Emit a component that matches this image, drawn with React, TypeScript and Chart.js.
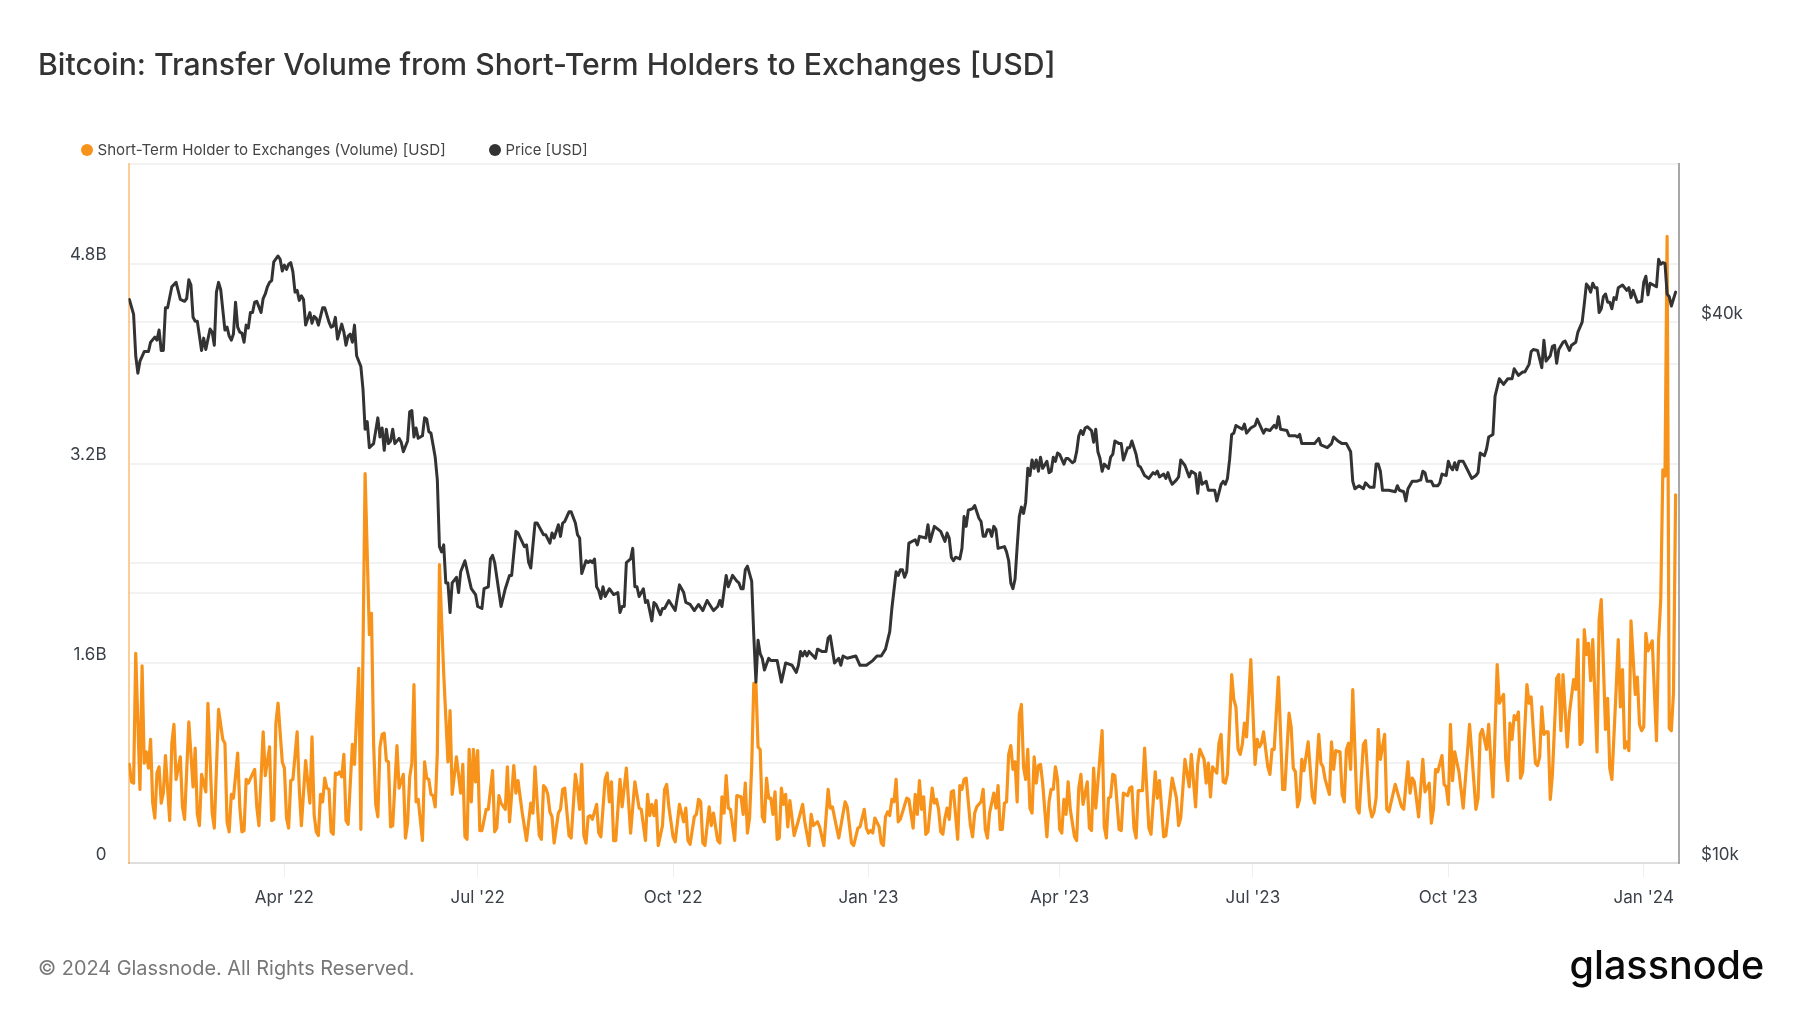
import { useEffect, useRef } from "react"
import { Chart, registerables } from "chart.js"
Chart.register(...registerables)

const FONT = "Inter, 'Noto Sans', sans-serif"
const ORANGE = "#f7931a"
const DARK = "#333333"
const GRID = "#f2f2f2"

// x values are days counted from 17 Jan 2022
const X_TICK_DAYS = [73, 164, 256, 348, 438, 529, 621, 713]
const X_TICK_LABELS = ["Apr '22", "Jul '22", "Oct '22", "Jan '23", "Apr '23", "Jul '23", "Oct '23", "Jan '24"]

const VOLUME_TICKS = [0, 0.8, 1.6, 2.4, 3.2, 4, 4.8, 5.6]
const VOLUME_LABELS = ["0", "", "1.6B", "", "3.2B", "", "4.8B", ""]
const PRICE_TICKS = [10000, 20000, 40000]
const PRICE_LABELS = ["$10k", "", "$40k"]

// [day, billions of USD]
const VOLUME: [number, number][] = [
  [0,.79],[1,.65],[2,.64],[3,1.68],[5,.59],[6,1.58],[7,.80],[8,.89],[9,.76],[10,.99],[11,.48],[12,.36],[13,.72],[14,.77],[15,.48],[16,.56],[17,.86],[19,.34],[20,.96],[21,1.11],[22,.67],[24,.85],[25,.45],[26,.35],[28,1.13],[30,.61],[31,.92],[32,.39],[33,.30],[34,.71],[36,.57],[37,1.28],[39,.40],[40,.28],[42,1.23],[44,.99],[45,.96],[46,.33],[47,.25],[48,.55],[49,.52],[51,.88],[52,.45],[53,.25],[54,.26],[55,.67],[56,.64],[59,.75],[60,.45],[61,.30],[63,1.05],[64,.70],[66,.93],[67,.34],[68,.35],[69,1.12],[70,1.28],[72,.81],[73,.76],[74,.36],[75,.28],[76,.66],[77,.67],[79,1.05],[80,.60],[81,.30],[83,.82],[85,.48],[86,1.01],[87,.39],[88,.25],[89,.22],[90,.55],[91,.49],[92,.68],[93,.60],[94,.59],[95,.25],[96,.23],[97,.72],[98,.71],[99,.73],[100,.69],[101,.87],[102,.34],[103,.31],[105,.95],[106,.79],[108,1.56],[109,.27],[111,3.12],[113,1.83],[114,2.00],[115,.96],[116,.47],[117,.37],[118,.93],[119,1.03],[120,1.04],[121,.82],[122,.81],[123,.29],[124,.30],[126,.94],[127,.60],[129,.71],[130,.20],[131,.32],[132,.69],[133,.80],[134,1.43],[135,.49],[136,.51],[138,.18],[139,.81],[140,.68],[141,.67],[142,.55],[143,.54],[144,.45],[145,.88],[146,2.39],[148,1.52],[150,.81],[151,1.22],[152,.55],[154,.85],[156,.56],[157,.79],[158,.21],[159,.19],[160,.91],[161,.49],[162,.91],[163,.65],[164,.90],[165,.26],[166,.26],[168,.43],[169,.43],[171,.74],[172,.25],[173,.28],[174,.54],[175,.48],[177,.43],[178,.77],[179,.33],[180,.55],[181,.78],[182,.56],[183,.66],
  [185,.40],[187,.18],[189,.48],[190,.40],[191,.77],[193,.22],[194,.19],[195,.62],[196,.60],[197,.55],[198,.41],[199,.37],[200,.16],[202,.40],[203,.43],[204,.59],[205,.60],[207,.22],[208,.20],[210,.71],[211,.60],[212,.43],[213,.79],[214,.22],[215,.16],[216,.37],[217,.38],[218,.35],[220,.47],[221,.24],[222,.21],[224,.67],[225,.72],[226,.49],[227,.65],[228,.18],[229,.18],[231,.67],[232,.45],[234,.76],[236,.24],[238,.65],[240,.44],[241,.43],[243,.18],[244,.55],[245,.38],[246,.47],[247,.38],[248,.50],[249,.14],[251,.30],[252,.59],[253,.63],[254,.45],[256,.21],[257,.17],[259,.47],[261,.33],[262,.44],[263,.18],[264,.15],[266,.37],[267,.39],[268,.51],[269,.49],[270,.16],[271,.14],[273,.45],[274,.30],[275,.40],[277,.18],[278,.16],[279,.53],[280,.40],[281,.70],[282,.44],[283,.43],[285,.18],[286,.54],[288,.53],[289,.39],[290,.64],[291,.24],[292,.36],[293,.77],[294,1.44],[295,1.44],[296,.93],[297,.91],[298,.37],[299,.33],[300,.68],[301,.52],[302,.52],[303,.39],[304,.57],[305,.19],[306,.20],[307,.60],[308,.47],[309,.55],[310,.29],[311,.50],[313,.22],[315,.34],[317,.47],[318,.33],[320,.14],[321,.39],[322,.30],[324,.33],[325,.29],[327,.14],[329,.59],[330,.44],[331,.45],[334,.20],[337,.49],[338,.45],[340,.16],[341,.14],[343,.28],[344,.29],[346,.43],[347,.28],[348,.24],[349,.26],[350,.24],[351,.36],[353,.29],[354,.16],[355,.14],[356,.37],[357,.41],[358,.38],[359,.51],[360,.49],[361,.67],[362,.33],[363,.35],[366,.52],[367,.51],[369,.28],[370,.55],[371,.39],[372,.66],
  [373,.43],[374,.53],[375,.23],[376,.25],[378,.60],[379,.48],[380,.51],[381,.43],[382,.25],[383,.23],[384,.36],[385,.44],[386,.35],[387,.57],[388,.58],[390,.19],[391,.62],[392,.59],[393,.67],[394,.68],[396,.30],[397,.21],[398,.40],[399,.45],[401,.49],[402,.59],[403,.27],[404,.20],[405,.40],[407,.56],[408,.44],[409,.62],[410,.27],[411,.27],[412,.48],[413,.49],[414,.87],[415,.94],[416,.75],[417,.81],[418,.49],[419,1.19],[420,1.27],[421,.77],[422,.67],[423,.91],[424,.44],[425,.40],[426,.85],[427,.64],[428,.78],[429,.79],[430,.64],[432,.21],[433,.49],[434,.59],[435,.59],[436,.77],[437,.67],[438,.27],[439,.24],[440,.51],[441,.39],[442,.65],[443,.43],[445,.21],[446,.18],[447,.60],[448,.71],[449,.47],[451,.65],[452,.28],[453,.26],[454,.76],[455,.44],[458,1.06],[459,.29],[460,.20],[461,.52],[462,.53],[463,.71],[464,.70],[466,.27],[467,.26],[468,.56],[470,.54],[471,.60],[472,.61],[473,.28],[474,.20],[475,.58],[477,.58],[478,.92],[480,.28],[481,.23],[483,.73],[484,.52],[485,.66],[487,.21],[488,.22],[491,.68],[493,.52],[494,.30],[495,.36],[497,.83],[499,.61],[500,.87],[502,.45],[503,.79],[504,.91],[506,.83],[507,.64],[508,.80],[509,.53],[510,.77],[512,.72],[513,.96],[514,1.03],[515,.65],[516,.64],[517,.71],[519,1.51],[520,1.31],[521,1.25],[522,.91],[523,.87],[524,.95],[525,1.12],[526,1.01],[528,1.63],[530,.79],[531,.99],[532,.93],[533,.96],[534,1.05],[536,.77],[537,.71],[538,.91],[539,.91],[541,1.49],[543,.59],[544,.59],[546,1.20],[547,1.09],[548,.76],[549,.73],[550,.45],[551,.51],[552,.83],[553,.74],[555,.97],[557,.53],[558,.48],
  [560,1.03],[561,.80],[562,.77],[563,.67],[565,.55],[566,.97],[567,.75],[568,.90],[570,.89],[571,.55],[572,.49],[573,.91],[574,.96],[575,.75],[576,1.39],[578,.44],[579,.40],[581,.95],[582,.98],[584,.45],[585,.37],[586,.41],[587,.52],[588,1.07],[589,.83],[591,1.03],[592,.43],[593,.41],[596,.63],[599,.45],[600,.43],[602,.81],[603,.56],[604,.68],[605,.65],[607,.37],[609,.83],[610,.57],[612,.64],[613,.32],[614,.43],[615,.75],[616,.73],[618,.86],[619,.63],[620,.61],[621,.47],[622,1.11],[623,.66],[624,.89],[626,.73],[628,.44],[631,1.11],[634,.43],[635,.52],[636,1.03],[637,1.07],[639,.91],[640,1.11],[642,.53],[644,1.59],[645,1.28],[647,1.35],[648,.83],[649,.66],[650,1.12],[651,.99],[652,1.18],[653,1.15],[654,1.21],[655,.68],[656,.73],[658,1.43],[659,1.28],[660,1.33],[662,.80],[663,.78],[664,.85],[665,1.25],[666,1.03],[667,1.05],[668,1.05],[669,.51],[670,.71],[672,1.48],[673,1.51],[674,1.06],[675,1.51],[677,.93],[678,1.20],[680,1.47],[681,1.39],[682,1.79],[683,.95],[684,.97],[685,1.87],[686,1.67],[687,1.76],[688,1.46],[689,1.79],[691,.89],[692,1.95],[693,2.11],[695,1.07],[696,1.32],[697,.76],[698,.67],[700,1.39],[701,1.79],[702,1.25],[703,1.55],[704,.92],[705,.97],[706,.90],[707,1.94],[709,1.35],[710,1.49],[711,1.11],[712,1.06],[713,1.09],[714,1.84],[715,1.70],[717,1.78],[719,.98],[720,1.79],[721,2.11],[722,3.15],[723,3.10],[724,5.02],[725,1.08],[726,1.06],[727,1.36],[728,2.95],
]

// [day, thousands of USD]
const PRICE: [number, number][] = [
  [0,42.4],[2,40.8],[3,36.7],[4,35.1],[5,36.2],[7,37.1],[9,37.1],[10,38.0],[12,38.5],[13,38.2],[14,39.2],[15,37.2],[16,37.2],[17,41.5],[18,41.5],[20,43.8],[22,44.3],[24,42.4],[26,42.2],[27,42.5],[28,44.6],[29,44.0],[30,40.5],[31,40.1],[32,40.1],[34,37.2],[35,38.4],[36,37.3],[38,39.3],[39,39.0],[40,37.7],[41,43.2],[42,44.3],[43,43.5],[45,39.2],[46,39.5],[47,38.6],[48,38.2],[49,38.8],[50,42.1],[51,39.5],[52,39.0],[53,38.9],[54,38.0],[55,39.7],[56,39.4],[57,41.0],[58,41.0],[59,42.1],[60,42.2],[62,41.0],[63,42.5],[64,43.0],[65,43.8],[66,44.3],[67,44.5],[68,46.7],[70,47.4],[71,47.0],[72,45.6],[73,46.3],[74,45.8],[75,46.4],[76,46.6],[77,45.5],[78,43.2],[79,43.4],[80,42.3],[81,42.8],[82,42.4],[83,39.7],[85,41.0],[86,39.9],[87,40.6],[88,40.4],[89,39.7],[91,41.5],[92,41.5],[94,40.0],[95,39.5],[96,39.6],[97,40.5],[98,38.3],[100,39.8],[101,39.0],[102,37.7],[103,38.6],[104,38.8],[105,38.0],[106,39.7],[107,36.7],[109,35.7],[110,33.7],[111,30.4],[112,31.0],[113,29.0],[115,29.3],[117,31.3],[118,29.8],[119,30.5],[120,28.8],[121,30.4],[122,29.3],[123,29.5],[124,30.4],[125,29.3],[127,29.7],[128,29.4],[129,28.7],[131,29.5],[132,31.8],[133,31.9],[134,29.8],[135,30.5],[136,29.7],[138,29.9],[139,31.3],[140,31.2],[141,30.2],[142,30.1],[143,29.2],[144,28.3],[145,26.7],[146,22.5],[147,22.2],[148,22.6],[149,20.5],[150,20.5],[151,19.0],[152,20.5],[154,20.8],[155,20.0],[156,21.1],[158,21.7],[161,20.2],[163,19.9],[164,19.3],[166,19.2],[167,20.2],[169,20.3],[170,21.8],[171,22.0],[172,21.6],[175,19.3],[177,20.2],[179,20.9],[180,20.9],[182,23.4],[183,23.3],
  [186,22.5],[187,22.6],[188,21.6],[189,21.3],[191,23.9],[192,23.9],[195,23.2],[196,23.2],[198,22.7],[199,23.3],[200,23.0],[202,23.8],[203,23.1],[204,23.9],[205,24.0],[207,24.6],[208,24.6],[210,23.9],[211,23.2],[212,23.0],[213,21.0],[215,21.7],[216,21.6],[217,21.7],[218,21.6],[219,21.8],[220,20.3],[221,20.1],[222,19.7],[223,20.3],[224,19.8],[226,20.2],[228,19.9],[230,20.0],[231,19.0],[232,19.3],[233,19.3],[234,21.6],[236,21.8],[237,22.4],[238,20.3],[239,20.3],[240,19.8],[242,20.2],[243,19.5],[244,19.6],[246,18.6],[247,19.5],[248,19.4],[250,18.9],[251,19.2],[252,19.2],[254,19.6],[257,19.1],[259,20.4],[261,20.0],[262,19.5],[264,19.4],[266,19.1],[268,19.4],[270,19.1],[272,19.6],[275,19.1],[277,19.3],[278,19.6],[279,19.3],[281,20.9],[282,20.3],[284,20.9],[286,20.6],[287,20.5],[288,20.2],[289,20.2],[290,21.2],[291,21.4],[293,20.6],[294,17.9],[295,15.9],[296,17.7],[297,17.1],[298,16.9],[299,16.4],[301,16.9],[302,16.8],[305,16.8],[307,15.9],[309,16.7],[312,16.6],[314,16.3],[315,16.6],[316,17.2],[317,17.0],[318,17.2],[319,17.0],[320,17.2],[322,17.0],[323,16.9],[324,17.3],[326,17.2],[328,17.2],[329,17.8],[330,17.9],[332,16.7],[334,16.9],[335,16.6],[336,17.0],[338,16.9],[342,17.0],[344,16.6],[347,16.6],[350,16.8],[352,17.0],[354,17.0],[356,17.3],[358,18.1],[359,19.2],[361,21.1],[362,20.9],[363,21.2],[364,21.2],[365,20.8],[366,21.1],
  [367,22.7],[370,22.9],[371,22.6],[372,23.1],[375,23.0],[376,23.8],[377,22.8],[379,23.7],[382,23.4],[384,22.8],[385,23.3],[386,23.0],[387,21.9],[388,21.7],[389,21.9],[391,21.8],[392,22.4],[393,24.3],[394,23.7],[395,24.7],[397,24.8],[398,25.0],[400,24.2],[401,24.0],[402,23.1],[403,23.1],[404,23.5],[405,23.5],[406,23.1],[407,23.7],[408,23.5],[409,22.4],[412,22.5],[413,22.2],[414,21.7],[415,20.5],[416,20.2],[417,20.7],[418,22.5],[419,24.3],[420,24.9],[421,24.5],[422,25.2],[423,27.5],[424,27.0],[425,28.1],[426,27.5],[427,28.1],[428,27.3],[429,28.3],[430,27.5],[432,28.0],[433,27.2],[434,27.3],[435,28.3],[436,28.0],[437,28.6],[438,28.5],[440,27.8],[441,28.2],[442,28.2],[444,27.9],[445,28.0],[446,28.7],[447,29.9],[448,30.3],[449,30.0],[450,30.5],[451,30.6],[453,30.3],[454,29.4],[455,30.4],[456,28.7],[457,28.2],[458,27.3],[459,27.8],[461,27.5],[462,28.3],[463,28.5],[464,29.5],[466,29.3],[467,29.3],[468,28.1],[470,29.0],[471,29.0],[472,29.5],[474,28.5],[475,27.7],[476,27.6],[478,27.0],[480,26.8],[482,27.2],[483,27.1],[484,27.3],[485,26.9],[487,27.1],[488,26.8],[489,27.2],[490,26.7],[491,26.4],[493,26.7],[494,26.9],[495,28.1],[497,27.7],[499,26.9],[500,27.3],[502,27.1],[503,25.8],[504,27.2],[505,26.4],[507,26.6],[508,26.0],[511,26.0],[512,25.3],[514,26.4],[515,26.6],[516,26.4],[517,26.8],[518,28.1],[519,30.0],[520,30.1],[521,30.7],[524,30.4],[525,30.8],[526,30.1],[528,30.5],[530,30.7],[531,31.2],[534,30.1],[535,30.4],[537,30.3],[539,30.7],[540,30.5],[541,31.4],[542,30.4],[545,30.3],[546,29.9],[548,29.9],[549,29.9],[550,29.8],
  [551,30.0],[552,29.3],[554,29.3],[556,29.3],[558,29.3],[560,29.7],[561,29.2],[564,29.0],[566,29.3],[567,29.8],[569,29.5],[571,29.3],[573,29.3],[575,28.7],[576,26.6],[577,26.1],[579,26.3],[581,26.1],[582,26.5],[584,26.2],[586,26.2],[587,27.8],[588,27.8],[589,27.3],[590,26.0],[593,26.0],[596,25.9],[597,26.3],[598,26.0],[600,25.9],[601,25.3],[602,26.1],[604,26.6],[606,26.6],[608,26.7],[609,27.3],[610,27.2],[611,26.6],[613,26.6],[614,26.3],[616,26.3],[617,26.5],[618,27.1],[620,27.0],[621,28.0],[622,27.6],[623,27.4],[624,27.9],[625,27.4],[626,28.0],[628,28.0],[630,27.4],[632,26.8],[634,27.0],[635,27.2],[636,28.6],[638,28.4],[639,28.9],[640,29.8],[642,30.0],[643,33.1],[645,34.6],[647,34.1],[649,34.6],[651,34.6],[652,35.5],[654,34.9],[656,35.2],[657,35.2],[659,35.9],[660,37.1],[661,37.3],[663,37.2],[665,35.6],[666,38.2],[667,36.2],[669,36.7],[670,37.6],[671,37.7],[672,36.0],[673,37.3],[675,38.0],[676,38.1],[678,37.2],[679,37.7],[681,38.0],[682,39.0],[684,40.0],[685,41.9],[686,44.1],[687,43.8],[688,43.2],[689,44.2],[690,43.7],[691,43.7],[692,41.0],[693,41.4],[694,42.7],[695,43.0],[696,42.1],[697,42.1],[698,41.4],[699,42.6],[700,42.4],[701,43.7],[703,44.0],[705,43.4],[706,43.7],[707,42.6],[708,43.4],[710,42.1],[712,42.2],[713,44.3],[714,45.0],[715,42.9],[716,44.2],[719,43.8],[720,47.0],[721,46.4],[722,46.6],[723,46.5],[724,43.0],[725,42.7],[726,41.7],[728,43.2],
]

const LEGEND = [
  { label: "Short-Term Holder to Exchanges (Volume) [USD]", color: ORANGE, left: 81, textLeft: 97.5, top: 139, size: 15.1 },
  { label: "Price [USD]", color: DARK, left: 489, textLeft: 505.5, top: 139, size: 14.8 },
]

export default function App() {
  const canvasRef = useRef<HTMLCanvasElement>(null)

  useEffect(() => {
    const canvas = canvasRef.current
    if (!canvas) return

    const chart = new Chart(canvas, {
      type: "line",
      data: {
        datasets: [
          {
            label: "Price [USD]",
            data: PRICE.map(([x, y]) => ({ x, y: y * 1000 })),
            yAxisID: "y1",
            borderColor: DARK,
            borderWidth: 3,
            borderJoinStyle: "round",
            borderCapStyle: "round",
            pointRadius: 0,
            tension: 0,
            order: 0,
          },
          {
            label: "Short-Term Holder to Exchanges (Volume) [USD]",
            data: VOLUME.map(([x, y]) => ({ x, y })),
            yAxisID: "y",
            borderColor: ORANGE,
            borderWidth: 3.2,
            borderJoinStyle: "round",
            borderCapStyle: "round",
            pointRadius: 0,
            tension: 0,
            order: 1,
          },
        ],
      },
      options: {
        responsive: false,
        animation: false,
        layout: { padding: { top: 164, left: 0, right: 0, bottom: 0 } },
        plugins: { legend: { display: false }, title: { display: false }, tooltip: { enabled: false } },
        scales: {
          x: {
            type: "linear",
            min: -0.4,
            max: 729.6,
            afterBuildTicks: (scale) => { scale.ticks = X_TICK_DAYS.map((value) => ({ value })) },
            afterFit: (scale) => { scale.height = 150 },
            border: { color: "#dedede", width: 2 },
            grid: { drawOnChartArea: false, color: "#eeeeee", tickLength: 14 },
            ticks: {
              autoSkip: false,
              maxRotation: 0,
              padding: 11,
              color: "#3c4049",
              font: { family: FONT, size: 17 },
              callback: (_v, i) => X_TICK_LABELS[i],
            },
          },
          y: {
            type: "linear",
            position: "left",
            min: 0,
            max: 5.6,
            afterBuildTicks: (scale) => { scale.ticks = VOLUME_TICKS.map((value) => ({ value })) },
            afterFit: (scale) => { scale.width = 128.5 },
            border: { color: "rgba(247,147,26,0.45)", width: 2 },
            grid: { color: GRID, lineWidth: 2, drawTicks: false },
            ticks: {
              autoSkip: false,
              align: "end",
              padding: 22,
              color: "#3c4049",
              font: { family: FONT, size: 17 },
              callback: (_v, i) => VOLUME_LABELS[i],
            },
          },
          y1: {
            type: "logarithmic",
            position: "right",
            min: 10000,
            max: 60000,
            afterBuildTicks: (scale) => { scale.ticks = PRICE_TICKS.map((value) => ({ value })) },
            afterFit: (scale) => { scale.width = 121 },
            border: { color: "#a8a8a8", width: 2 },
            grid: { color: GRID, lineWidth: 2, drawTicks: false },
            ticks: {
              autoSkip: false,
              align: "end",
              padding: 22,
              color: "#3c4049",
              font: { family: FONT, size: 17 },
              callback: (_v, i) => PRICE_LABELS[i],
            },
          },
        },
      },
    })

    return () => chart.destroy()
  }, [])

  return (
    <div style={{ position: "absolute", left: 0, top: 0, width: 1800, height: 1013, background: "#fff", fontFamily: FONT, overflow: "hidden" }}>
      <canvas ref={canvasRef} width={1800} height={1013} style={{ position: "absolute", left: 0, top: 0 }} />
      <div style={{ position: "absolute", left: 38, top: 45, fontSize: 30.2, fontWeight: 500, color: "#333", whiteSpace: "nowrap", lineHeight: "38px" }}>
        Bitcoin: Transfer Volume from Short-Term Holders to Exchanges [USD]
      </div>
      {LEGEND.map((item) => (
        <div key={item.label}>
          <span style={{ position: "absolute", left: item.left, top: item.top + 5, width: 12, height: 12, borderRadius: "50%", background: item.color }} />
          <span style={{ position: "absolute", left: item.textLeft, top: item.top, fontSize: item.size, lineHeight: "22px", color: "#444", whiteSpace: "nowrap" }}>
            {item.label}
          </span>
        </div>
      ))}
      <div style={{ position: "absolute", left: 38, top: 953, fontSize: 19.9, lineHeight: "30px", color: "#777", whiteSpace: "nowrap" }}>
        © 2024 Glassnode. All Rights Reserved.
      </div>
      <div style={{ position: "absolute", left: 1569.5, top: 940, fontSize: 39.5, lineHeight: "50px", fontWeight: 500, color: "#0a0a0a", whiteSpace: "nowrap" }}>
        glassnode
      </div>
    </div>
  )
}
